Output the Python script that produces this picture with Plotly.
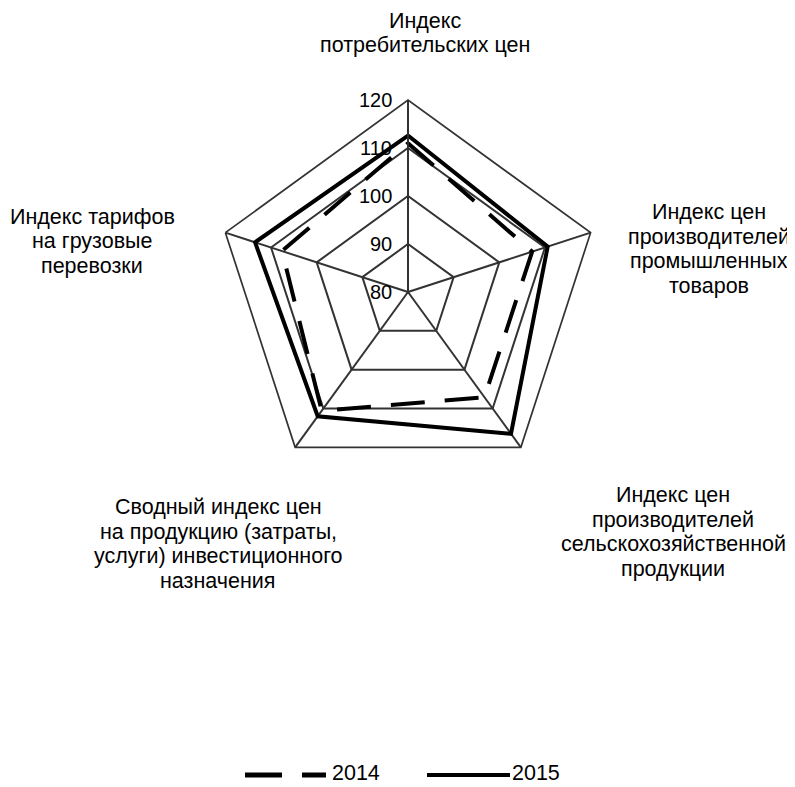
import plotly.graph_objects as go

# the page body has an 8px margin, so the figure is made 8px smaller
OFF = 8
W, H = 795 - OFF, 787 - OFF

categories = [
    "Индекс потребительских цен",
    "Индекс цен производителей промышленных товаров",
    "Индекс цен производителей сельскохозяйственной продукции",
    "Сводный индекс цен на продукцию (затраты, услуги) инвестиционного назначения",
    "Индекс тарифов на грузовые перевозки",
]
values_2014 = [111.0, 107.2, 107.1, 110.6, 107.6]
values_2015 = [112.6, 110.6, 116.5, 112.0, 113.5]
radial_ticks = [80, 90, 100, 110, 120]
r_min, r_max = 80, 120

# category captions, wrapped as in the original
captions = [
    ["Индекс", "потребительских цен"],
    ["Индекс цен", "производителей", "промышленных", "товаров"],
    ["Индекс цен", "производителей", "сельскохозяйственной", "продукции"],
    ["Сводный индекс цен", "на продукцию (затраты,", "услуги) инвестиционного", "назначения"],
    ["Индекс тарифов", "на грузовые", "перевозки"],
]
# page pixel position: centre x and y of the first line
caption_pos = [(425, 21), (709, 212), (673, 495), (218, 507), (92, 217)]
LINE_STEP = 24.5

FONT = "Arial, Liberation Sans, sans-serif"
GRID = "#333333"


def fx(px):
    return (px - OFF) / W


def fy(py):
    return 1 - (py - OFF) / H


# close the polygons
theta = categories + categories[:1]

fig = go.Figure()
fig.add_trace(go.Scatterpolar(
    r=values_2014 + values_2014[:1], theta=theta, mode="lines", name="2014",
    line=dict(color="black", width=4, dash="34px,20px")))
fig.add_trace(go.Scatterpolar(
    r=values_2015 + values_2015[:1], theta=theta, mode="lines", name="2015",
    line=dict(color="black", width=4)))

cx, cy, R = 408, 292, 192
fig.update_layout(
    width=W, height=H,
    margin=dict(l=0, r=0, t=0, b=0),
    paper_bgcolor="white",
    showlegend=False,
    font=dict(family=FONT, color="black"),
    polar=dict(
        domain=dict(x=[fx(cx - R), fx(cx + R)], y=[fy(cy + R), fy(cy - R)]),
        bgcolor="white",
        gridshape="linear",
        radialaxis=dict(range=[r_min, r_max], tickvals=radial_ticks, angle=90,
                        showticklabels=False, showline=True,
                        linecolor=GRID, linewidth=1.7, gridcolor=GRID,
                        gridwidth=1.7, ticks=""),
        angularaxis=dict(rotation=90, direction="clockwise", showticklabels=False,
                         showline=True, linecolor=GRID, linewidth=1.7,
                         gridcolor=GRID, gridwidth=1.7, ticks=""),
    ),
)

# horizontal radial tick labels, left of the vertical axis
for t in radial_ticks:
    py = cy - (t - r_min) / (r_max - r_min) * R
    fig.add_annotation(x=fx(cx - 14), y=fy(py), xref="paper", yref="paper",
                       text=str(t), showarrow=False, xanchor="right",
                       yanchor="middle",
                       font=dict(size=20, family=FONT, color="black"))

for lines, (px, py) in zip(captions, caption_pos):
    for i, text in enumerate(lines):
        fig.add_annotation(x=fx(px), y=fy(py + i * LINE_STEP), xref="paper",
                           yref="paper", text=text, showarrow=False,
                           xanchor="center", yanchor="middle",
                           font=dict(size=21.5, family=FONT, color="black"))

# legend drawn by hand to get the long line samples
ly = fy(775)
fig.add_shape(type="line", xref="paper", yref="paper", x0=fx(245), x1=fx(326),
              y0=ly, y1=ly, line=dict(color="black", width=5, dash="37px,20px"))
fig.add_shape(type="line", xref="paper", yref="paper", x0=fx(427), x1=fx(510),
              y0=ly, y1=ly, line=dict(color="black", width=4))
for text, px in [("2014", 330), ("2015", 510)]:
    fig.add_annotation(x=fx(px), y=fy(773), xref="paper", yref="paper",
                       text=text, showarrow=False, xanchor="left",
                       yanchor="middle",
                       font=dict(size=21.5, family=FONT, color="black"))

fig.write_html("out.html")
